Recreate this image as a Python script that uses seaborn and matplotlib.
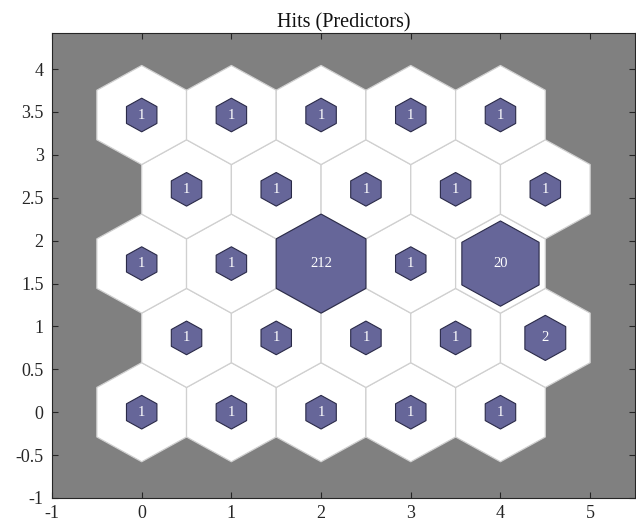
import numpy as np
import matplotlib
matplotlib.use("Agg")
import matplotlib.pyplot as plt
import seaborn as sns
import pandas as pd
from matplotlib.collections import PolyCollection

# ---- data (hits per neuron, 5x5 hexagonal SOM, row by row from bottom) ----
hits_row0 = [1, 1, 1, 1, 1]
hits_row1 = [1, 1, 1, 1, 2]
hits_row2 = [1, 1, 212, 1, 20]
hits_row3 = [1, 1, 1, 1, 1]
hits_row4 = [1, 1, 1, 1, 1]
title_text = "Hits (Predictors)"
xtick_vals = [-1, 0, 1, 2, 3, 4, 5]
ytick_vals = [-1, -0.5, 0, 0.5, 1, 1.5, 2, 2.5, 3, 3.5, 4]

rows = [hits_row0, hits_row1, hits_row2, hits_row3, hits_row4]
recs = []
for r, row in enumerate(rows):
    for c, h in enumerate(row):
        recs.append({"x": c + 0.5 * (r % 2), "y": r * np.sqrt(0.75), "hits": h})
df = pd.DataFrame(recs)

sns.set_theme(style="ticks")
plt.rcParams['font.family'] = ['Liberation Serif', 'DejaVu Serif']
plt.rcParams['axes.unicode_minus'] = False

fig = plt.figure(figsize=(6.36, 5.24), dpi=100)
ax = fig.add_axes([52 / 636, 26 / 524, 583 / 636, 465 / 524])
ax.set_facecolor('#808080')

ang = np.deg2rad(90 + 60 * np.arange(6))
hx = 0.5 / np.cos(np.deg2rad(30)) * np.cos(ang)
hy = 0.5 / np.cos(np.deg2rad(30)) * np.sin(ang)

outer = [np.column_stack([x + hx, y + hy]) for x, y in zip(df.x, df.y)]
ax.add_collection(PolyCollection(outer, facecolors='white', edgecolors='#d0d0d0',
                                 linewidths=0.9, zorder=1))

maxh = df.hits.max()
def scale(h):
    return np.sqrt(h / (h + 8.0)) / np.sqrt(maxh / (maxh + 8.0))

inner = [np.column_stack([x + hx * scale(h), y + hy * scale(h)])
         for x, y, h in zip(df.x, df.y, df.hits)]
ax.add_collection(PolyCollection(inner, facecolors='#666699', edgecolors='#2a2a48',
                                 linewidths=0.8, zorder=2))
for x, y, h in zip(df.x, df.y, df.hits):
    ax.text(x, y, str(h), color='white', ha='center', va='center',
            fontsize=10.5, zorder=3)

ax.set_xlim(-1, 5.5)
ax.set_ylim(-1, 4.42)
ax.set_xticks(xtick_vals)
ax.set_yticks(ytick_vals)
ax.set_xticklabels([f"{v:g}" for v in xtick_vals])
ax.set_yticklabels([f"{v:g}" for v in ytick_vals])
ax.tick_params(direction='in', length=4, width=0.8, top=True, right=True,
               labelsize=13, colors='#262626')
ax.tick_params(axis='y', pad=6)
ax.tick_params(axis='x', pad=5)
for s in ax.spines.values():
    s.set_color('#262626')
    s.set_linewidth(0.8)
ax.set_title(title_text, pad=4, fontsize=14.5, color='#111111')

fig.savefig("out.png", dpi=100)
